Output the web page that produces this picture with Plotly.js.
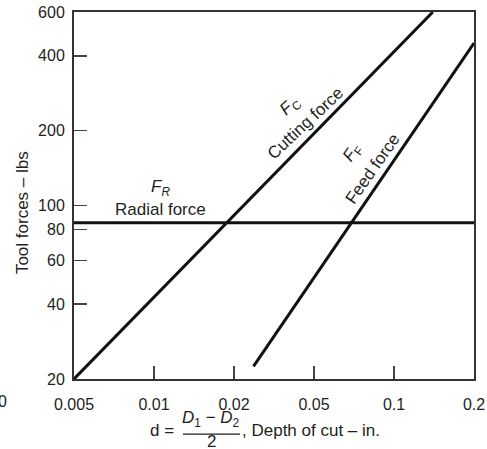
<!DOCTYPE html>
<html>
<head>
<meta charset="utf-8">
<script src="https://cdn.plot.ly/plotly-3.0.1.min.js"></script>
<style>html,body{margin:0;padding:0;background:#fff;}#chart{width:487px;height:449px;}</style>
</head>
<body>
<div id="chart"></div>
<script>
// ---- data ----
const depthTicks = [0.005, 0.01, 0.02, 0.05, 0.1, 0.2];
const depthTickLabels = ['0.005', '0.01', '0.02', '0.05', '0.1', '0.2'];
const forceTicks = [20, 40, 60, 80, 100, 200, 400, 600];
const forceTickLabels = ['20', '40', '60', '80', '100', '200', '400', '600'];

const cuttingDepth = [0.005, 0.14];
const cuttingForce = [20, 600];
const feedDepth = [0.025, 0.2];
const feedForce = [22.5, 450];
const radialDepth = [0.005, 0.2];
const radialForce = [85, 85];

// The printed depth axis spaces its ticks evenly; map a depth onto that
// scale by log-interpolating between neighbouring ticks.
function depthPos(d) {
  for (let i = 0; i < depthTicks.length - 1; i++) {
    const a = depthTicks[i], b = depthTicks[i + 1];
    if (d <= b || i === depthTicks.length - 2) {
      return i + Math.log(d / a) / Math.log(b / a);
    }
  }
}

const FONT = 'Liberation Sans, Arial, Helvetica, sans-serif';
const INK = '#231f20';
const LINE = '#111111';

const traces = [
  {x: cuttingDepth.map(depthPos), y: cuttingForce, name: 'Cutting force'},
  {x: feedDepth.map(depthPos), y: feedForce, name: 'Feed force'},
  {x: radialDepth.map(depthPos), y: radialForce, name: 'Radial force'}
].map(t => Object.assign(t, {
  type: 'scatter', mode: 'lines', line: {color: LINE, width: 3},
  hoverinfo: 'skip', showlegend: false, cliponaxis: true
}));

function ann(text, x, y, size, angle, extra) {
  return Object.assign({
    text: text, x: x, y: y, xref: 'paper', yref: 'paper',
    showarrow: false, textangle: angle || 0,
    xanchor: 'center', yanchor: 'middle',
    font: {family: FONT, size: size, color: INK}
  }, extra || {});
}

const layout = {
  width: 487, height: 449,
  margin: {l: 74, r: 13, t: 12, b: 70, pad: 0},
  paper_bgcolor: '#fff', plot_bgcolor: '#fff',
  showlegend: false,
  xaxis: {
    type: 'linear', range: [0, depthTicks.length - 1],
    tickmode: 'array', tickvals: depthTicks.map(depthPos), ticktext: depthTickLabels,
    ticks: 'inside', ticklen: 13, tickwidth: 1.5, tickcolor: '#444',
    showline: true, linecolor: '#333', linewidth: 2, mirror: true,
    showgrid: false, zeroline: false,
    ticklabelstandoff: 10,
    tickfont: {family: FONT, size: 16, color: INK}
  },
  yaxis: {
    type: 'log', range: [Math.log10(20), Math.log10(600)],
    tickmode: 'array', tickvals: forceTicks, ticktext: forceTickLabels,
    ticks: 'inside', ticklen: 13, tickwidth: 1.5, tickcolor: '#444',
    showline: true, linecolor: '#333', linewidth: 2, mirror: true,
    showgrid: false, zeroline: false,
    ticklabelstandoff: 4,
    tickfont: {family: FONT, size: 16, color: INK}
  },
  annotations: [
    ann('0', -0.1625, -0.06, 16, 0, {xanchor: 'right'}),
    ann('Tool forces – lbs', -0.13, 0.452, 17, -90),
    ann('d =', 0.255, -0.139, 17, 0, {xanchor: 'right'}),
    ann('<i>D</i><sub>1</sub> − <i>D</i><sub>2</sub>', 0.3425, -0.108, 17, 0),
    ann('2', 0.3425, -0.171, 17, 0),
    ann(', Depth of cut – in.', 0.415, -0.139, 17, 0, {xanchor: 'left'}),
    ann('<i>F</i><sub><i>R</i></sub>', 0.215, 0.52, 17, 0),
    ann('Radial force', 0.215, 0.4605, 17, 0),
    ann('<i>F</i><sub>C</sub>', 0.54, 0.741, 17, -43),
    ann('Cutting force', 0.5775, 0.6975, 17, -43),
    ann('<i>F</i><sub>F</sub>', 0.6975, 0.6158, 17, -55),
    ann('Feed force', 0.745, 0.572, 17, -55)
  ],
  shapes: [
    {type: 'line', xref: 'paper', yref: 'paper', x0: 0.2725, x1: 0.415, y0: -0.150, y1: -0.150,
     line: {color: INK, width: 1.2}}
  ]
};

Plotly.newPlot('chart', traces, layout, {staticPlot: true, displayModeBar: false});
</script>
</body>
</html>
